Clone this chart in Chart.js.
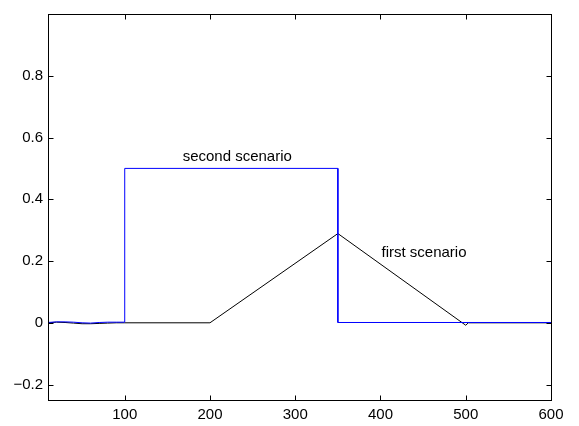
<!DOCTYPE html>
<html>
<head>
<meta charset="utf-8">
<script src="https://cdn.jsdelivr.net/npm/chart.js@4/dist/chart.umd.min.js"></script>
<style>
  html, body { margin: 0; padding: 0; background: #fff; }
  #wrap { width: 579px; height: 426px; }
</style>
</head>
<body>
<div id="wrap"><canvas id="chart" width="579" height="426"></canvas></div>
<script>
// --- Data ---
const firstX = [10, 20, 30, 40, 50, 60, 70, 80, 90, 100, 200, 350, 500, 503, 600];
const firstY = [0, 0.002, 0.001, -0.001, -0.003, -0.003, -0.002, -0.001, 0, 0, 0, 0.289, -0.008, 0, 0];

const secondX = [10, 20, 30, 40, 50, 60, 70, 80, 90, 100, 100, 350, 350, 600];
const secondY = [0.001, 0.003, 0.003, 0.002, 0, -0.001, 0.001, 0.002, 0.002, 0.002, 0.5, 0.5, 0.001, 0.001];

const xTicks = [100, 200, 300, 400, 500, 600];
const yTicks = [-0.2, 0, 0.2, 0.4, 0.6, 0.8];

const labels = [
    { text: 'second scenario', x: 232, y: 0.537 },
    { text: 'first scenario', x: 451, y: 0.225 }
];

const FONT = '"Liberation Sans", Arial, Helvetica, sans-serif';

const toPoints = (xs, ys) => xs.map((x, i) => ({ x: x, y: ys[i] }));

// --- Box, inward ticks and text labels (MATLAB look) ---
const boxPlugin = {
    id: 'box',
    afterDraw(chart) {
        const ctx = chart.ctx;
        const a = chart.chartArea;
        const xs = chart.scales.x;
        const ys = chart.scales.y;
        ctx.save();
        ctx.strokeStyle = '#000';
        ctx.lineWidth = 1;
        const L = Math.round(a.left) + 0.5, R = Math.round(a.right) + 0.5;
        const T = Math.round(a.top) + 0.5, B = Math.round(a.bottom) + 0.5;
        ctx.strokeRect(L, T, R - L, B - T);
        ctx.beginPath();
        xTicks.forEach(v => {
            const px = Math.round(xs.getPixelForValue(v)) + 0.5;
            ctx.moveTo(px, B); ctx.lineTo(px, B - 5);
            ctx.moveTo(px, T); ctx.lineTo(px, T + 5);
        });
        yTicks.forEach(v => {
            const py = Math.round(ys.getPixelForValue(v)) + 0.5;
            ctx.moveTo(L, py); ctx.lineTo(L + 5, py);
            ctx.moveTo(R, py); ctx.lineTo(R - 5, py);
        });
        ctx.stroke();

        ctx.fillStyle = '#000';
        ctx.font = '15px ' + FONT;
        ctx.textAlign = 'center';
        ctx.textBaseline = 'middle';
        labels.forEach(l => {
            ctx.fillText(l.text, xs.getPixelForValue(l.x), ys.getPixelForValue(l.y));
        });
        ctx.restore();
    }
};

new Chart(document.getElementById('chart').getContext('2d'), {
    type: 'line',
    data: {
        datasets: [{
            label: 'first scenario',
            data: toPoints(firstX, firstY),
            borderColor: '#000000',
            borderWidth: 1,
            pointRadius: 0,
            tension: 0,
            order: 2
        }, {
            label: 'second scenario',
            data: toPoints(secondX, secondY),
            borderColor: '#0000ff',
            borderWidth: 1,
            pointRadius: 0,
            tension: 0,
            order: 1
        }]
    },
    options: {
        responsive: false,
        animation: false,
        layout: { padding: { left: 0, right: 28, top: 4, bottom: 0 } },
        plugins: {
            legend: { display: false },
            tooltip: { enabled: false }
        },
        scales: {
            x: {
                type: 'linear',
                min: 10,
                max: 600,
                grid: { display: false, drawTicks: false },
                border: { display: false },
                afterBuildTicks: s => { s.ticks = xTicks.map(v => ({ value: v })); },
                afterFit: s => { s.height = 26; },
                ticks: {
                    color: '#000',
                    padding: 6,
                    maxRotation: 0,
                    font: { family: FONT, size: 15 },
                    callback: v => String(v)
                }
            },
            y: {
                type: 'linear',
                min: -0.25,
                max: 1,
                grid: { display: false, drawTicks: false },
                border: { display: false },
                afterBuildTicks: s => { s.ticks = yTicks.map(v => ({ value: v })); },
                afterFit: s => { s.width = 48; },
                ticks: {
                    color: '#000',
                    padding: 5,
                    font: { family: FONT, size: 15 },
                    callback: v => {
                        const r = Math.round(v * 10) / 10;
                        return r < 0 ? '\u2212' + Math.abs(r) : String(r);
                    }
                }
            }
        }
    },
    plugins: [boxPlugin]
});
</script>
</body>
</html>
